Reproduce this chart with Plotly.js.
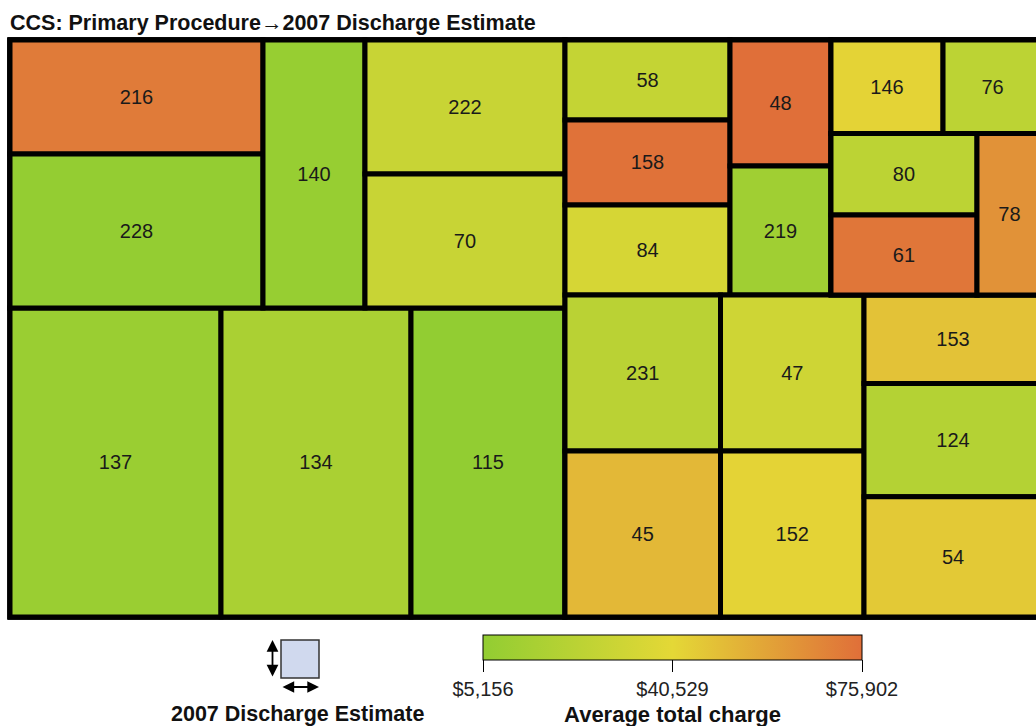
<!DOCTYPE html>
<html>
<head>
<meta charset="utf-8">
<script src="https://cdn.plot.ly/plotly-3.0.1.min.js"></script>
<style>
  html, body { margin: 0; padding: 0; overflow: hidden; background: #fff; }
  #chart { width: 1052px; height: 726px; }
</style>
</head>
<body>
<div id="chart"></div>
<script>
// ---- data ----
const procedures = ['216','228','140','222','70','137','134','115','58','158','84','48','219',
                    '146','76','80','61','78','231','45','47','152','153','124','54'];
// 2007 discharge estimate (thousands, estimated from tile areas)
const discharges = [432.6, 584.4, 410.0, 402.0, 402.0, 978.0, 880.7, 713.8, 198.0, 210.4, 222.8, 190.9, 195.4,
                    157.1, 138.8, 178.5, 175.2, 157.5, 363.9, 387.2, 335.8, 357.3, 236.3, 302.2, 321.2];
// average total charge ($, estimated from tile colours)
const avgCharge = [71900, 6000, 7300, 28500, 28500, 8600, 15500, 5156, 26700, 75000, 34500, 75902, 11200,
                   42200, 23300, 23300, 73600, 64100, 22400, 51300, 31000, 42200, 48000, 19800, 45600];
// grouping of the procedures in the treemap hierarchy
const procGroup = ['LT1','LT1','LT2','LT3','LT3','LB','LB','LB','RT1','RT1','RT1','RT2','RT2',
                   'RT3a','RT3a','RT3b1','RT3b1','RT3b2','RB1','RB1','RB2','RB2','RB3','RB3','RB3'];
const groups      = ['root','L','LT','LT1','LT2','LT3','LB','R','RT','RT1','RT2','RT3','RT3a','RT3b','RT3b1','RT3b2','RB','RB1','RB2','RB3'];
const groupParent = ['',    'root','L','LT','LT','LT','L','root','R','RT','RT','RT','RT3','RT3','RT3b','RT3b','R','RB','RB','RB'];
const chargeTicks = [5156, 40529, 75902];
const chargeTickText = ['$5,156', '$40,529', '$75,902'];

// ---- build trace ----
const ids = [], labels = [], parents = [], values = [], colors = [], texts = [];
groups.forEach((g, i) => {
  ids.push(g); labels.push(g); parents.push(groupParent[i]);
  values.push(0); colors.push(40529); texts.push('');
});
procedures.forEach((p, i) => {
  ids.push('p' + p); labels.push(p); parents.push(procGroup[i]);
  values.push(discharges[i]); colors.push(avgCharge[i]); texts.push(p);
});

const FONT = 'Liberation Sans, Arial, sans-serif';
const L = 10, R = 10, T = 40, B = 109, FW = 1052, FH = 726;
const PW = FW - L - R, PH = FH - T - B;
const xp = px => (px - L) / PW;
const yp = py => (FH - B - py) / PH;

const trace = {
  type: 'treemap',
  ids: ids, labels: labels, parents: parents, values: values,
  branchvalues: 'remainder',
  sort: false,
  text: texts,
  textinfo: 'text',
  textposition: 'middle center',
  textfont: { family: FONT, size: 20, color: '#1a1a1a' },
  hoverinfo: 'label+value',
  pathbar: { visible: false },
  tiling: { packing: 'slice-dice', pad: 0 },
  leaf: { opacity: 1 },
  marker: {
    colors: colors,
    colorscale: [[0, '#92cd32'], [0.5, '#e4d836'], [1, '#e06f39']],
    cmin: 5156, cmax: 75902,
    depthfade: false,
    pad: { t: 0, l: 0, r: 0, b: 0 },
    line: { color: '#000', width: 5 },
    showscale: true,
    colorbar: {
      orientation: 'h',
      x: xp(672.5), xanchor: 'center',
      y: yp(635), yanchor: 'top',
      len: 379, lenmode: 'pixels',
      thickness: 25, thicknessmode: 'pixels',
      xpad: 0, ypad: 0,
      outlinecolor: '#000', outlinewidth: 1,
      tickmode: 'array', tickvals: chargeTicks, ticktext: chargeTickText,
      ticks: 'outside', ticklen: 12, tickwidth: 1, tickcolor: '#000',
      tickfont: { family: FONT, size: 20, color: '#222' },
      title: { text: 'Average total charge', side: 'bottom',
               font: { family: FONT, size: 22, color: '#111', weight: 'bold' } }
    }
  },
  domain: { x: [0, 1], y: [0, 1] }
};

const layout = {
  width: FW, height: FH,
  margin: { l: L, r: R, t: T, b: B, autoexpand: false },
  paper_bgcolor: '#fff',
  font: { family: FONT },
  title: {
    text: 'CCS: Primary Procedure\u21922007 Discharge Estimate',
    font: { family: FONT, size: 21.5, color: '#111', weight: 'bold' },
    x: 10 / FW, xanchor: 'left', xref: 'container',
    y: 1 - 22 / FH, yanchor: 'middle', yref: 'container'
  },
  shapes: [
    { type: 'rect', xref: 'paper', yref: 'paper',
      x0: xp(281), x1: xp(319), y0: yp(678), y1: yp(640),
      fillcolor: '#d0d9ee', line: { color: '#333', width: 1.5 } }
  ],
  annotations: [
    { xref: 'paper', yref: 'paper', x: xp(272.5), y: yp(640), ax: 0, ay: 38,
      text: '', showarrow: true, arrowhead: 2, arrowside: 'end+start', arrowsize: 1.3,
      arrowwidth: 1.8, arrowcolor: '#000', standoff: 0, startstandoff: 0 },
    { xref: 'paper', yref: 'paper', x: xp(319), y: yp(687), ax: -38, ay: 0,
      text: '', showarrow: true, arrowhead: 2, arrowside: 'end+start', arrowsize: 1.3,
      arrowwidth: 1.8, arrowcolor: '#000', standoff: 0, startstandoff: 0 },
    { xref: 'paper', yref: 'paper', x: xp(297.5), y: yp(714), xanchor: 'center', yanchor: 'middle',
      text: '2007 Discharge Estimate', showarrow: false,
      font: { family: FONT, size: 21.5, color: '#111', weight: 'bold' } }
  ]
};

Plotly.newPlot('chart', [trace], layout, { displayModeBar: false, staticPlot: true });
</script>
</body>
</html>
